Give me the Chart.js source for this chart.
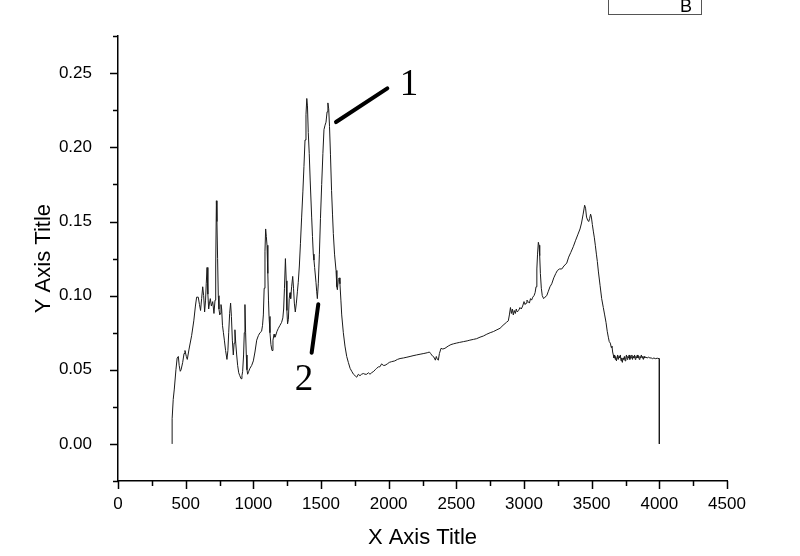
<!DOCTYPE html>
<html lang="en">
<head>
    <meta charset="UTF-8">
    <title>Spectrum B</title>
    <script src="https://cdn.jsdelivr.net/npm/chart.js"></script>
    <style>
        body {
            margin: 0;
            background: #fff;
        }
        canvas {
            display: block;
        }
    </style>
</head>
<body>
    <canvas id="spectrum" width="800" height="556"></canvas>

    <script>
        // wavenumber (x) and intensity (y)
        const wavenumber = [
            400, 400, 408, 416, 428, 437, 446, 452, 460, 466, 478, 488, 495, 505, 512, 525, 544, 560, 572, 581,
            593, 602, 610, 618, 626, 633, 640, 647, 652, 658, 664, 670, 676, 682, 690, 700, 709, 717, 722, 727,
            731, 736, 741, 746, 752, 756, 761, 766, 772, 779, 786, 795, 805, 812, 818, 825, 832, 838, 845, 852,
            858, 864, 870, 877, 884, 892, 900, 909, 916, 921, 928, 933, 938, 943, 948, 953, 958, 966, 975, 988,
            1000, 1012, 1025, 1037, 1049, 1061, 1068, 1074, 1080, 1086, 1091, 1096, 1101, 1107, 1112, 1116, 1123, 1130, 1138, 1145,
            1153, 1159, 1165, 1175, 1185, 1197, 1209, 1218, 1224, 1230, 1237, 1243, 1248, 1253, 1259, 1265, 1271, 1276, 1283, 1291,
            1297, 1303, 1310, 1318, 1326, 1332, 1340, 1348, 1357, 1366, 1374, 1382, 1389, 1395, 1400, 1406, 1413, 1420, 1431, 1437,
            1443, 1448, 1453, 1463, 1468, 1473, 1480, 1488, 1496, 1505, 1514, 1522, 1530, 1537, 1545, 1551, 1557, 1563, 1570, 1578,
            1585, 1591, 1600, 1611, 1617, 1621, 1628, 1635, 1640, 1647, 1653, 1665, 1677, 1690, 1702, 1715, 1727, 1740, 1752, 1764,
            1776, 1788, 1800, 1813, 1825, 1838, 1850, 1862, 1874, 1890, 1900, 1911, 1925, 1935, 1948, 1960, 1973, 1990, 2005, 2022,
            2045, 2065, 2084, 2110, 2135, 2158, 2180, 2205, 2232, 2260, 2285, 2301, 2310, 2318, 2327, 2335, 2345, 2352, 2360, 2367,
            2375, 2387, 2400, 2416, 2440, 2460, 2478, 2500, 2525, 2552, 2580, 2600, 2626, 2650, 2675, 2700, 2725, 2750, 2774, 2800,
            2823, 2845, 2870, 2884, 2892, 2900, 2907, 2914, 2921, 2928, 2936, 2943, 2950, 2960, 2970, 2980, 2990, 3000, 3008, 3015,
            3022, 3030, 3040, 3048, 3056, 3065, 3074, 3082, 3089, 3095, 3100, 3106, 3111, 3116, 3121, 3128, 3135, 3145, 3155, 3168,
            3180, 3192, 3205, 3220, 3235, 3247, 3262, 3279, 3295, 3316, 3330, 3345, 3364, 3380, 3397, 3414, 3425, 3437, 3448, 3455,
            3462, 3470, 3478, 3485, 3492, 3498, 3505, 3513, 3520, 3527, 3535, 3542, 3550, 3562, 3574, 3586, 3596, 3606, 3615, 3623,
            3630, 3638, 3645, 3650, 3655, 3660, 3665, 3670, 3674, 3678, 3683, 3688, 3692, 3697, 3702, 3707, 3712, 3717, 3722, 3727,
            3732, 3737, 3742, 3747, 3752, 3757, 3762, 3767, 3772, 3777, 3782, 3787, 3792, 3797, 3802, 3807, 3812, 3817, 3822, 3827,
            3832, 3837, 3842, 3847, 3852, 3857, 3862, 3867, 3872, 3877, 3882, 3887, 3892, 3900, 3910, 3920, 3930, 3940, 3950, 3960,
            3970, 3985, 4000, 4000
        ];
        const intensity = [
            0, 0.017, 0.030, 0.037, 0.050, 0.058, 0.059, 0.053, 0.049, 0.050, 0.055, 0.061, 0.063, 0.059, 0.057, 0.064, 0.073, 0.083, 0.093, 0.099,
            0.099, 0.094, 0.090, 0.098, 0.106, 0.100, 0.089, 0.097, 0.108, 0.119, 0.101, 0.091, 0.095, 0.098, 0.093, 0.096, 0.088, 0.097, 0.120, 0.164,
            0.150, 0.125, 0.100, 0.091, 0.087, 0.088, 0.094, 0.091, 0.080, 0.075, 0.070, 0.063, 0.057, 0.063, 0.075, 0.088, 0.095, 0.086, 0.070, 0.060,
            0.068, 0.077, 0.068, 0.060, 0.053, 0.048, 0.046, 0.044, 0.046, 0.049, 0.060, 0.075, 0.094, 0.075, 0.060, 0.050, 0.047, 0.049, 0.051, 0.053,
            0.056, 0.062, 0.070, 0.073, 0.075, 0.076, 0.080, 0.087, 0.105, 0.130, 0.145, 0.140, 0.134, 0.115, 0.097, 0.086, 0.075, 0.067, 0.063, 0.070,
            0.074, 0.072, 0.073, 0.076, 0.078, 0.080, 0.082, 0.085, 0.091, 0.105, 0.125, 0.110, 0.090, 0.081, 0.084, 0.098, 0.102, 0.098, 0.106, 0.113,
            0.105, 0.095, 0.089, 0.095, 0.103, 0.109, 0.120, 0.135, 0.153, 0.170, 0.187, 0.205, 0.222, 0.233, 0.228, 0.210, 0.196, 0.178, 0.153, 0.140,
            0.128, 0.124, 0.119, 0.109, 0.103, 0.098, 0.108, 0.128, 0.152, 0.175, 0.196, 0.212, 0.215, 0.217, 0.224, 0.230, 0.226, 0.214, 0.195, 0.171,
            0.155, 0.142, 0.128, 0.117, 0.106, 0.104, 0.111, 0.112, 0.108, 0.097, 0.087, 0.075, 0.066, 0.059, 0.055, 0.051, 0.049, 0.047, 0.046, 0.045,
            0.047, 0.046, 0.047, 0.0475, 0.047, 0.047, 0.048, 0.047, 0.048, 0.049, 0.050, 0.051, 0.052, 0.052, 0.054, 0.053, 0.053, 0.054, 0.055, 0.0555,
            0.056, 0.057, 0.0576, 0.058, 0.0585, 0.059, 0.0595, 0.060, 0.0605, 0.061, 0.0615, 0.062, 0.061, 0.060, 0.059, 0.0585, 0.0565, 0.059, 0.057, 0.0565,
            0.061, 0.0645, 0.064, 0.0645, 0.066, 0.067, 0.0675, 0.068, 0.0685, 0.069, 0.0695, 0.070, 0.0705, 0.071, 0.072, 0.0728, 0.074, 0.075, 0.0758, 0.077,
            0.078, 0.080, 0.082, 0.083, 0.087, 0.092, 0.088, 0.091, 0.087, 0.090, 0.088, 0.091, 0.089, 0.090, 0.092, 0.091, 0.093, 0.096, 0.094, 0.095,
            0.097, 0.096, 0.095, 0.098, 0.097, 0.099, 0.100, 0.102, 0.106, 0.118, 0.128, 0.136, 0.134, 0.127, 0.115, 0.105, 0.100, 0.098, 0.099, 0.100,
            0.103, 0.106, 0.108, 0.112, 0.115, 0.117, 0.118, 0.118, 0.120, 0.122, 0.126, 0.129, 0.133, 0.137, 0.141, 0.145, 0.149, 0.155, 0.161, 0.159,
            0.153, 0.151, 0.150, 0.152, 0.155, 0.153, 0.148, 0.143, 0.139, 0.134, 0.128, 0.123, 0.116, 0.107, 0.098, 0.092, 0.087, 0.082, 0.076, 0.072,
            0.069, 0.068, 0.065, 0.066, 0.062, 0.060, 0.058, 0.060, 0.057, 0.059, 0.056, 0.058, 0.060, 0.057, 0.059, 0.058, 0.060, 0.056, 0.058, 0.055,
            0.058, 0.057, 0.059, 0.056, 0.058, 0.060, 0.057, 0.059, 0.058, 0.060, 0.057, 0.059, 0.058, 0.060, 0.057, 0.059, 0.058, 0.060, 0.057, 0.059,
            0.058, 0.060, 0.058, 0.059, 0.057, 0.059, 0.058, 0.060, 0.058, 0.059, 0.057, 0.059, 0.058, 0.0585, 0.058, 0.0585, 0.058, 0.058, 0.0575, 0.058,
            0.0575, 0.0578, 0.0575, 0
        ];

        const xTickStep = 250;   // labelled every 500
        const yTickStep = 0.025; // labelled every 0.05

        const points = wavenumber.map((x, i) => ({ x: x, y: intensity[i] }));

        const sans = '"Liberation Sans", Arial, sans-serif';

        // outward tick marks, long on labelled ticks, short on the others
        const tickMarks = {
            id: 'tickMarks',
            afterDraw(chart) {
                const ctx = chart.ctx;
                const xs = chart.scales.x;
                const ys = chart.scales.y;
                const area = chart.chartArea;
                ctx.save();
                ctx.strokeStyle = '#000';
                ctx.lineWidth = 1.5;
                ctx.beginPath();
                xs.ticks.forEach(t => {
                    const px = Math.round(xs.getPixelForValue(t.value)) + 0.5;
                    const len = Math.round(t.value) % 500 === 0 ? 8 : 5;
                    ctx.moveTo(px, area.bottom);
                    ctx.lineTo(px, area.bottom + len);
                });
                ys.ticks.forEach(t => {
                    const py = Math.round(ys.getPixelForValue(t.value)) + 0.5;
                    const len = Math.round(t.value * 1000) % 50 === 0 ? 8 : 5;
                    ctx.moveTo(area.left, py);
                    ctx.lineTo(area.left - len, py);
                });
                ctx.stroke();
                ctx.restore();
            }
        };

        // peak markers "1" and "2" and the clipped legend box
        const notes = {
            id: 'notes',
            afterDraw(chart) {
                const ctx = chart.ctx;
                const xs = chart.scales.x;
                const ys = chart.scales.y;
                const px = v => xs.getPixelForValue(v);
                const py = v => ys.getPixelForValue(v);
                ctx.save();
                ctx.strokeStyle = '#000';
                ctx.lineWidth = 4;
                ctx.lineCap = 'round';
                ctx.beginPath();
                ctx.moveTo(px(1611), py(0.2171));
                ctx.lineTo(px(1990), py(0.2398));
                ctx.moveTo(px(1480), py(0.0942));
                ctx.lineTo(px(1431), py(0.0615));
                ctx.stroke();

                ctx.fillStyle = '#000';
                ctx.font = '37px "Liberation Serif", "Times New Roman", serif';
                ctx.textAlign = 'center';
                ctx.textBaseline = 'alphabetic';
                ctx.fillText('1', px(2150), py(0.2355));
                ctx.fillText('2', px(1374), py(0.0367));

                // legend box, cut by the top edge
                ctx.lineWidth = 1;
                ctx.strokeStyle = '#555';
                ctx.strokeRect(608.5, -12.5, 93, 27);
                ctx.font = '18px ' + sans;
                ctx.textAlign = 'left';
                ctx.fillText('B', 680, 12);
                ctx.restore();
            }
        };

        const ctx = document.getElementById('spectrum').getContext('2d');
        const myChart = new Chart(ctx, {
            type: 'line',
            data: {
                datasets: [{
                    label: 'B',
                    data: points,
                    borderColor: '#1a1a1a',
                    borderWidth: 1,
                    pointRadius: 0,
                    tension: 0,
                    fill: false
                }]
            },
            options: {
                responsive: false,
                animation: false,
                events: [],
                layout: {
                    padding: { top: 30, right: 73, left: 0, bottom: 0 }
                },
                plugins: {
                    legend: { display: false },
                    tooltip: { enabled: false }
                },
                scales: {
                    x: {
                        type: 'linear',
                        min: 0,
                        max: 4500,
                        afterFit: scale => { scale.height = 75; },
                        grid: { display: false, drawTicks: false },
                        border: { display: true, color: '#000', width: 1.5 },
                        ticks: {
                            stepSize: xTickStep,
                            autoSkip: false,
                            maxRotation: 0,
                            padding: 13,
                            color: '#000',
                            font: { family: sans, size: 17 },
                            callback: v => (Math.round(v) % 500 === 0 ? String(v) : '')
                        },
                        title: {
                            display: true,
                            text: 'X Axis Title',
                            color: '#000',
                            font: { family: sans, size: 22 },
                            padding: { top: 0, bottom: 5 }
                        }
                    },
                    y: {
                        min: -0.025,
                        max: 0.275,
                        afterFit: scale => { scale.width = 118; },
                        grid: { display: false, drawTicks: false },
                        border: { display: true, color: '#000', width: 1.5 },
                        ticks: {
                            stepSize: yTickStep,
                            autoSkip: false,
                            padding: 26,
                            color: '#000',
                            font: { family: sans, size: 17 },
                            callback: v => (Math.round(v * 1000) % 50 === 0 ? v.toFixed(2) : '')
                        },
                        title: {
                            display: true,
                            text: 'Y Axis Title',
                            color: '#000',
                            font: { family: sans, size: 22 },
                            padding: { top: 31, bottom: 0 }
                        }
                    }
                }
            },
            plugins: [tickMarks, notes]
        });
    </script>
</body>
</html>
